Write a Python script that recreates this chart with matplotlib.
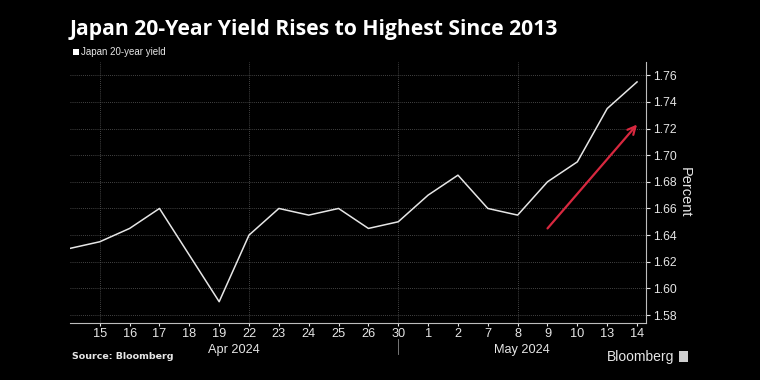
import matplotlib.pyplot as plt
import matplotlib.patches as mpatches
from matplotlib import font_manager

# Japan 20-year yield, daily closes
day_labels = ["12", "15", "16", "17", "18", "19", "22", "23", "24", "25", "26", "30",
              "1", "2", "7", "8", "9", "10", "13", "14"]
yields = [1.630, 1.635, 1.645, 1.660, 1.625, 1.590, 1.640, 1.660, 1.655, 1.660, 1.645,
          1.650, 1.670, 1.685, 1.660, 1.655, 1.680, 1.695, 1.735, 1.755]
y_ticks = [1.58, 1.60, 1.62, 1.64, 1.66, 1.68, 1.70, 1.72, 1.74, 1.76]
grid_days = [1, 6, 11, 15]          # vertical dotted gridlines (15, 22, 30, 8)
months = ["Apr 2024", "May 2024"]
month_start = 11                    # index where the May label block begins
arrow_from = (16, 1.645)
arrow_to = (19, 1.723)

names = {f.name for f in font_manager.fontManager.ttflist}
narrow = "Liberation Sans Narrow" if "Liberation Sans Narrow" in names else "Liberation Sans"

BG = "#000000"
FG = "#e6e6e6"
GRID = "#5a5a5a"

fig = plt.figure(figsize=(7.6, 3.8), dpi=100, facecolor=BG)
ax = fig.add_axes([0.092, 0.150, 0.758, 0.687], facecolor=BG)

x = list(range(len(yields)))
ax.plot(x, yields, color=FG, linewidth=1.1)

ax.annotate("", xy=arrow_to, xytext=arrow_from,
            arrowprops=dict(arrowstyle="->", color="#d8283f", lw=1.6,
                            mutation_scale=14, shrinkA=0, shrinkB=0))

ax.set_xlim(0, 19.3)
ax.set_ylim(1.574, 1.770)

# y axis on the right
ax.yaxis.tick_right()
ax.yaxis.set_label_position("right")
ax.set_yticks(y_ticks)
ax.set_yticklabels([f"{v:.2f}" for v in y_ticks], fontfamily=narrow, fontsize=8.8, color=FG)
ax.set_ylabel("Percent", rotation=270, labelpad=11, fontfamily=narrow, fontsize=10.5, color=FG)
ax.tick_params(axis="y", colors=FG, length=3, width=0.8, pad=2)

ax.set_xticks(x[1:])
ax.set_xticklabels(day_labels[1:], fontfamily=narrow, fontsize=9.2, color=FG)
ax.tick_params(axis="x", colors=FG, length=2.5, width=0.8, pad=1)

for s in ["top", "left"]:
    ax.spines[s].set_visible(False)
for s in ["bottom", "right"]:
    ax.spines[s].set_color("#bdbdbd")
    ax.spines[s].set_linewidth(0.8)

for v in y_ticks:
    ax.axhline(v, color=GRID, linestyle=(0, (1, 1.5)), linewidth=0.6, zorder=0)
for d in grid_days:
    ax.axvline(d, color=GRID, linestyle=(0, (1, 1.5)), linewidth=0.6, zorder=0)

# month row
trans = ax.get_xaxis_transform()
ax.text(month_start / 2, -0.103, months[0], transform=trans, ha="center", va="center",
        fontfamily=narrow, fontsize=9.2, color=FG)
ax.text((month_start + 19.3) / 2, -0.103, months[1], transform=trans, ha="center", va="center",
        fontfamily=narrow, fontsize=9.2, color=FG)
ax.plot([month_start, month_start], [-0.062, -0.118], transform=trans, color="#8a8a8a",
        linewidth=0.6, clip_on=False)

# title, legend, footer
fig.text(0.092, 0.922, "Japan 20-Year Yield Rises to Highest Since 2013", fontfamily="Open Sans",
         fontweight="bold", fontsize=15.2, color="white", va="center")
fig.patches.append(mpatches.Rectangle((0.096, 0.856), 0.0075, 0.015, transform=fig.transFigure,
                                      facecolor="white", edgecolor="none"))
fig.text(0.106, 0.863, "Japan 20-year yield", fontfamily=narrow, fontsize=7, color=FG, va="center")
fig.text(0.095, 0.061, "Source: Bloomberg", fontfamily="DejaVu Sans", fontweight="bold",
         fontsize=6.8, color=FG, va="center")
fig.text(0.887, 0.061, "Bloomberg", fontfamily=narrow, fontsize=10, color=FG, va="center", ha="right")
fig.patches.append(mpatches.Rectangle((0.893, 0.047), 0.012, 0.030, transform=fig.transFigure,
                                      facecolor="#cfcfcf", edgecolor="none"))

fig.savefig("out.png", dpi=100, facecolor=BG)
